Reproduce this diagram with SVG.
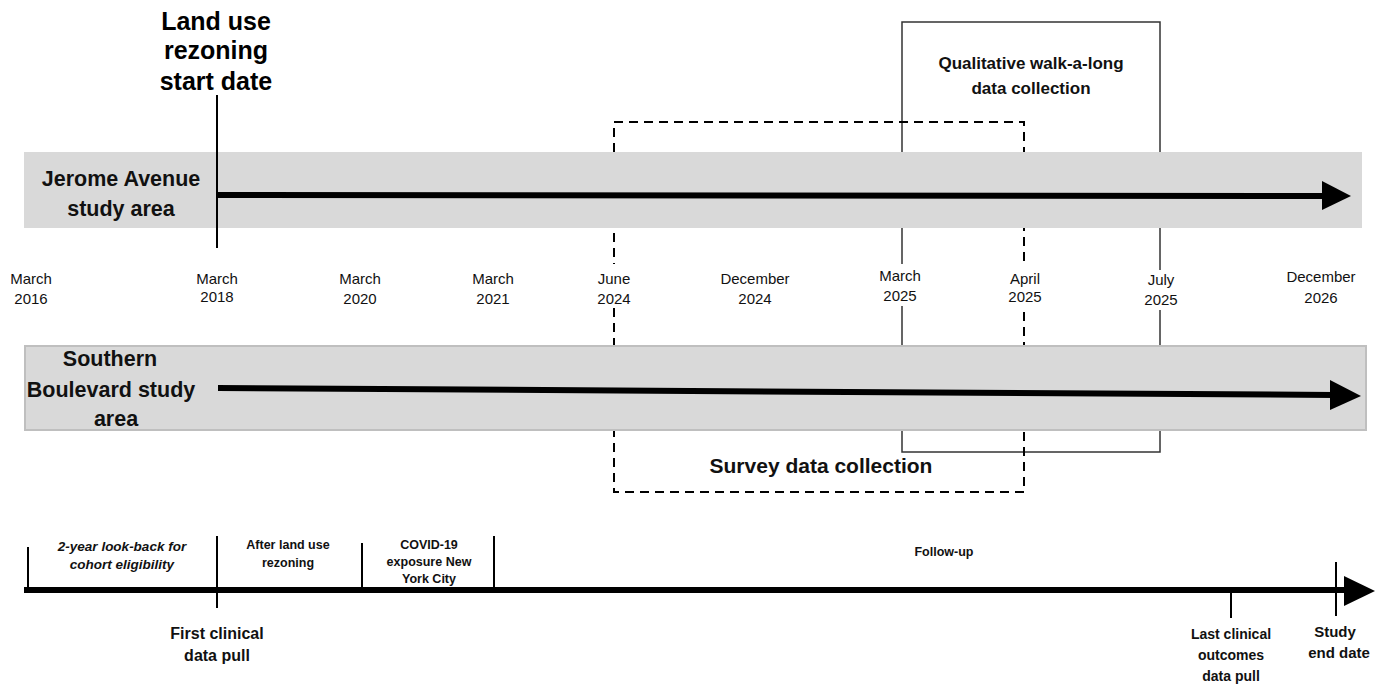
<svg xmlns="http://www.w3.org/2000/svg" width="1384" height="684" viewBox="0 0 1384 684">
<style>
.band{fill:#d9d9d9}
.band2{fill:#d9d9d9;stroke:#bfbfbf;stroke-width:2}
.shaft{stroke:#000;stroke-width:6;fill:none}
.tick{stroke:#000;stroke-width:2;fill:none}
.solidbox{stroke:#333;stroke-width:1.5;fill:none}
.dashbox{stroke:#000;stroke-width:2;fill:none;stroke-dasharray:9,6}
.mask{fill:#fff}
.h1{font-family:"Liberation Sans",Arial,sans-serif;font-weight:bold;font-size:25px;fill:#000;text-anchor:middle}
.area{font-family:"Liberation Sans",Arial,sans-serif;font-weight:bold;font-size:21.5px;fill:#111;text-anchor:middle}
.date{font-family:"Liberation Sans",Arial,sans-serif;font-size:15px;fill:#111;text-anchor:middle}
.qual{font-family:"Liberation Sans",Arial,sans-serif;font-weight:bold;font-size:17px;fill:#111;text-anchor:middle}
.survey{font-family:"Liberation Sans",Arial,sans-serif;font-weight:bold;font-size:21px;fill:#111;text-anchor:middle}
.small{font-family:"Liberation Sans",Arial,sans-serif;font-weight:bold;font-size:12.5px;fill:#111;text-anchor:middle}
.smalli{font-family:"Liberation Sans",Arial,sans-serif;font-weight:bold;font-style:italic;font-size:13.5px;fill:#111;text-anchor:middle}
.ev{font-family:"Liberation Sans",Arial,sans-serif;font-weight:bold;font-size:16px;fill:#111;text-anchor:middle}
.ev2{font-family:"Liberation Sans",Arial,sans-serif;font-weight:bold;font-size:14px;fill:#111;text-anchor:middle}
.ev3{font-family:"Liberation Sans",Arial,sans-serif;font-weight:bold;font-size:15px;fill:#111;text-anchor:middle}
</style>
<rect width="1384" height="684" fill="#fff"/>

<g id="qualitative-box">
<rect class="solidbox" x="902" y="22" width="258" height="430"/>
<text class="qual" x="1031" y="69">Qualitative walk-a-long</text>
<text class="qual" x="1031" y="94">data collection</text>
</g>

<g id="survey-box">
<rect class="dashbox" x="614" y="122" width="410" height="370"/>
<text class="survey" x="821" y="473">Survey data collection</text>
</g>

<g id="date-labels">
<rect class="mask" x="880" y="264" width="44" height="42"/>
<rect class="mask" x="1138" y="270" width="44" height="40"/>
<rect class="mask" x="594" y="264" width="40" height="44"/>
<rect class="mask" x="1004" y="264" width="42" height="44"/>
<text class="date" x="31" y="284">March</text><text class="date" x="31" y="304">2016</text>
<text class="date" x="217" y="284">March</text><text class="date" x="217" y="302">2018</text>
<text class="date" x="360" y="284">March</text><text class="date" x="360" y="304">2020</text>
<text class="date" x="493" y="284">March</text><text class="date" x="493" y="304">2021</text>
<text class="date" x="614" y="284">June</text><text class="date" x="614" y="304">2024</text>
<text class="date" x="755" y="284">December</text><text class="date" x="755" y="304">2024</text>
<text class="date" x="900" y="281">March</text><text class="date" x="900" y="301">2025</text>
<text class="date" x="1025" y="284">April</text><text class="date" x="1025" y="302">2025</text>
<text class="date" x="1161" y="285">July</text><text class="date" x="1161" y="305">2025</text>
<text class="date" x="1321" y="282">December</text><text class="date" x="1321" y="303">2026</text>
</g>

<g id="jerome-band">
<rect class="band" x="24" y="152" width="1338" height="76"/>
<text class="area" x="121" y="186">Jerome Avenue</text>
<text class="area" x="121" y="216">study area</text>
</g>

<g id="southern-band">
<rect class="band2" x="25" y="346" width="1341" height="84"/>
<text class="area" x="110" y="366">Southern</text>
<text class="area" x="111" y="397">Boulevard study</text>
<text class="area" x="116" y="426">area</text>
</g>

<g id="rezoning-start">
<text class="h1" x="216" y="30">Land use</text>
<text class="h1" x="216" y="59">rezoning</text>
<text class="h1" x="216" y="90">start date</text>
</g>

<g id="bottom-labels">
<text class="smalli" x="122" y="551">2-year look-back for</text>
<text class="smalli" x="122" y="569">cohort eligibility</text>
<text class="small" x="288" y="549">After land use</text>
<text class="small" x="288" y="567">rezoning</text>
<text class="small" x="429" y="549">COVID-19</text>
<text class="small" x="429" y="566">exposure New</text>
<text class="small" x="429" y="583">York City</text>
<text class="small" x="944" y="556">Follow-up</text>
<text class="ev" x="217" y="639">First clinical</text>
<text class="ev" x="217" y="661">data pull</text>
<text class="ev2" x="1231" y="639">Last clinical</text>
<text class="ev2" x="1231" y="660">outcomes</text>
<text class="ev2" x="1231" y="681">data pull</text>
<text class="ev3" x="1335" y="637">Study</text>
<text class="ev3" x="1339" y="658">end date</text>
</g>

<g id="connectors">
<line class="tick" x1="217" y1="95" x2="217" y2="248"/>
<line class="shaft" x1="217" y1="195" x2="1326" y2="196"/>
<polygon points="1322,181 1351,196 1322,210" fill="#000"/>
<line class="shaft" x1="218" y1="388" x2="1334" y2="395"/>
<polygon points="1330,380 1361,396 1330,410" fill="#000"/>
<line class="shaft" x1="24" y1="590" x2="1348" y2="590" stroke-width="5"/>
<polygon points="1344,576 1375,591 1344,606" fill="#000"/>
<line class="tick" x1="28" y1="547" x2="28" y2="590"/>
<line class="tick" x1="217" y1="536" x2="217" y2="608"/>
<line class="tick" x1="362" y1="543" x2="362" y2="590"/>
<line class="tick" x1="494" y1="536" x2="494" y2="590"/>
<line class="tick" x1="1231" y1="590" x2="1231" y2="618"/>
<line class="tick" x1="1336" y1="562" x2="1336" y2="616"/>
</g>
</svg>
